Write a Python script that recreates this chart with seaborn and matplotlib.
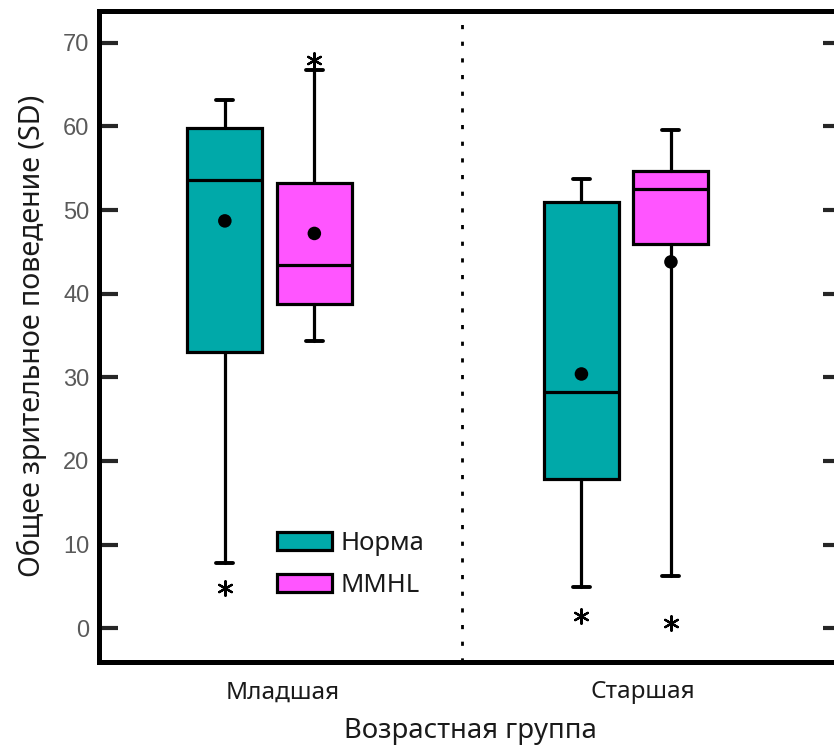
import matplotlib
matplotlib.use("Agg")
import matplotlib.pyplot as plt
from matplotlib.patches import Patch
import pandas as pd
import seaborn as sns

# ---- data -------------------------------------------------------------
age_groups = ["Младшая", "Старшая"]
conditions = ["Норма", "MMHL"]
box_colors = ["#00A9A9", "#FF55FF"]

norma_whislo = [7.8, 4.9]
norma_q1 = [33.0, 17.9]
norma_med = [53.6, 28.2]
norma_q3 = [59.8, 51.0]
norma_whishi = [63.2, 53.7]
norma_mean = [48.7, 30.4]
norma_outliers = [[4.8], [1.5]]

mmhl_whislo = [34.3, 6.2]
mmhl_q1 = [38.8, 45.9]
mmhl_med = [43.4, 52.5]
mmhl_q3 = [53.2, 54.7]
mmhl_whishi = [66.7, 59.6]
mmhl_mean = [47.2, 43.8]
mmhl_outliers = [[67.9], [0.6]]

# ---- layout -----------------------------------------------------------
group_pos = [0.0, 1.0]
hue_offset = [-0.1255, 0.1255]
box_width = 0.21
label_pos = [0.038, 1.047]

sns.set_style("ticks")
plt.rcParams["font.family"] = ["Noto Sans", "DejaVu Sans"]

W, H = 834, 755
fig = plt.figure(figsize=(W / 100, H / 100), dpi=100)
ax_left, ax_right, ax_top, ax_bottom = 99, 842, 11, 661.5
ax = fig.add_axes([ax_left / W, 1 - ax_bottom / H,
                   (ax_right - ax_left) / W, (ax_bottom - ax_top) / H])

series = {
    "Норма": (norma_whislo, norma_q1, norma_med, norma_q3, norma_whishi, norma_mean, norma_outliers),
    "MMHL": (mmhl_whislo, mmhl_q1, mmhl_med, mmhl_q3, mmhl_whishi, mmhl_mean, mmhl_outliers),
}

rows_mean, rows_out = [], []
for ci, cond in enumerate(conditions):
    wlo, q1, med, q3, whi, mean, outl = series[cond]
    stats, positions = [], []
    for gi, grp in enumerate(age_groups):
        x = group_pos[gi] + hue_offset[ci]
        stats.append(dict(whislo=wlo[gi], q1=q1[gi], med=med[gi], q3=q3[gi],
                          whishi=whi[gi], fliers=[], label=grp))
        positions.append(x)
        rows_mean.append(dict(x=x, y=mean[gi], cond=cond))
        for v in outl[gi]:
            rows_out.append(dict(x=x, y=v, cond=cond))
    ax.bxp(stats, positions=positions, widths=box_width, patch_artist=True,
           showfliers=False, capwidths=0.048, manage_ticks=False,
           boxprops=dict(facecolor=box_colors[ci], edgecolor="black", linewidth=2.3),
           medianprops=dict(color="black", linewidth=2.3),
           whiskerprops=dict(color="black", linewidth=2.3),
           capprops=dict(color="black", linewidth=2.8))

means_df = pd.DataFrame(rows_mean)
outliers_df = pd.DataFrame(rows_out)

sns.scatterplot(data=means_df, x="x", y="y", color="black", s=95,
                edgecolor="none", zorder=6, ax=ax, legend=False)
sns.scatterplot(data=outliers_df, x="x", y="y", color="black", marker=(6, 2, 0),
                s=110, linewidth=1.6, zorder=6, ax=ax, legend=False)

# dotted separator between age groups
ax.axvline(0.5395, color="black", linestyle=(0, (1.5, 4.5)), linewidth=2.0, zorder=1)

ax.set_xlim(-0.4784, 1.6052)
ax.set_ylim(-3.97, 73.79)

ax.set_yticks(range(0, 71, 10))
ax.set_xticks(label_pos)
ax.set_xticklabels(age_groups, fontsize=17.5, color="#1a1a1a")

for side in ["left", "right", "top", "bottom"]:
    ax.spines[side].set_visible(True)
    ax.spines[side].set_linewidth(3.6)
    ax.spines[side].set_color("black")

ax.tick_params(axis="y", which="major", direction="in", length=13.5, width=3,
               left=True, right=True, labelsize=17, labelcolor="#5a5a5a", pad=7)
ax.tick_params(axis="x", length=0, pad=13.5)
for lbl in ax.get_yticklabels():
    lbl.set_fontfamily(["Liberation Sans", "DejaVu Sans"])

ax.set_xlabel("Возрастная группа", fontsize=19.8, color="#1a1a1a", labelpad=9.5)
ax.set_ylabel("Общее зрительное поведение (SD)", fontsize=20.6, color="#1a1a1a", labelpad=11.5)
ax.grid(False)

handles = [Patch(facecolor=c, edgecolor="black", linewidth=2.3, label=n)
           for c, n in zip(box_colors, conditions)]
leg = ax.legend(handles=handles, loc="upper left", frameon=False, fontsize=18.5,
                bbox_to_anchor=(277 / W, 1 - 531 / H), bbox_transform=fig.transFigure,
                handlelength=2.15, handleheight=0.65, handletextpad=0.32,
                labelspacing=0.66, borderpad=0, borderaxespad=0)
for t in leg.get_texts():
    t.set_color("#1a1a1a")

fig.savefig("out.png", dpi=100)
